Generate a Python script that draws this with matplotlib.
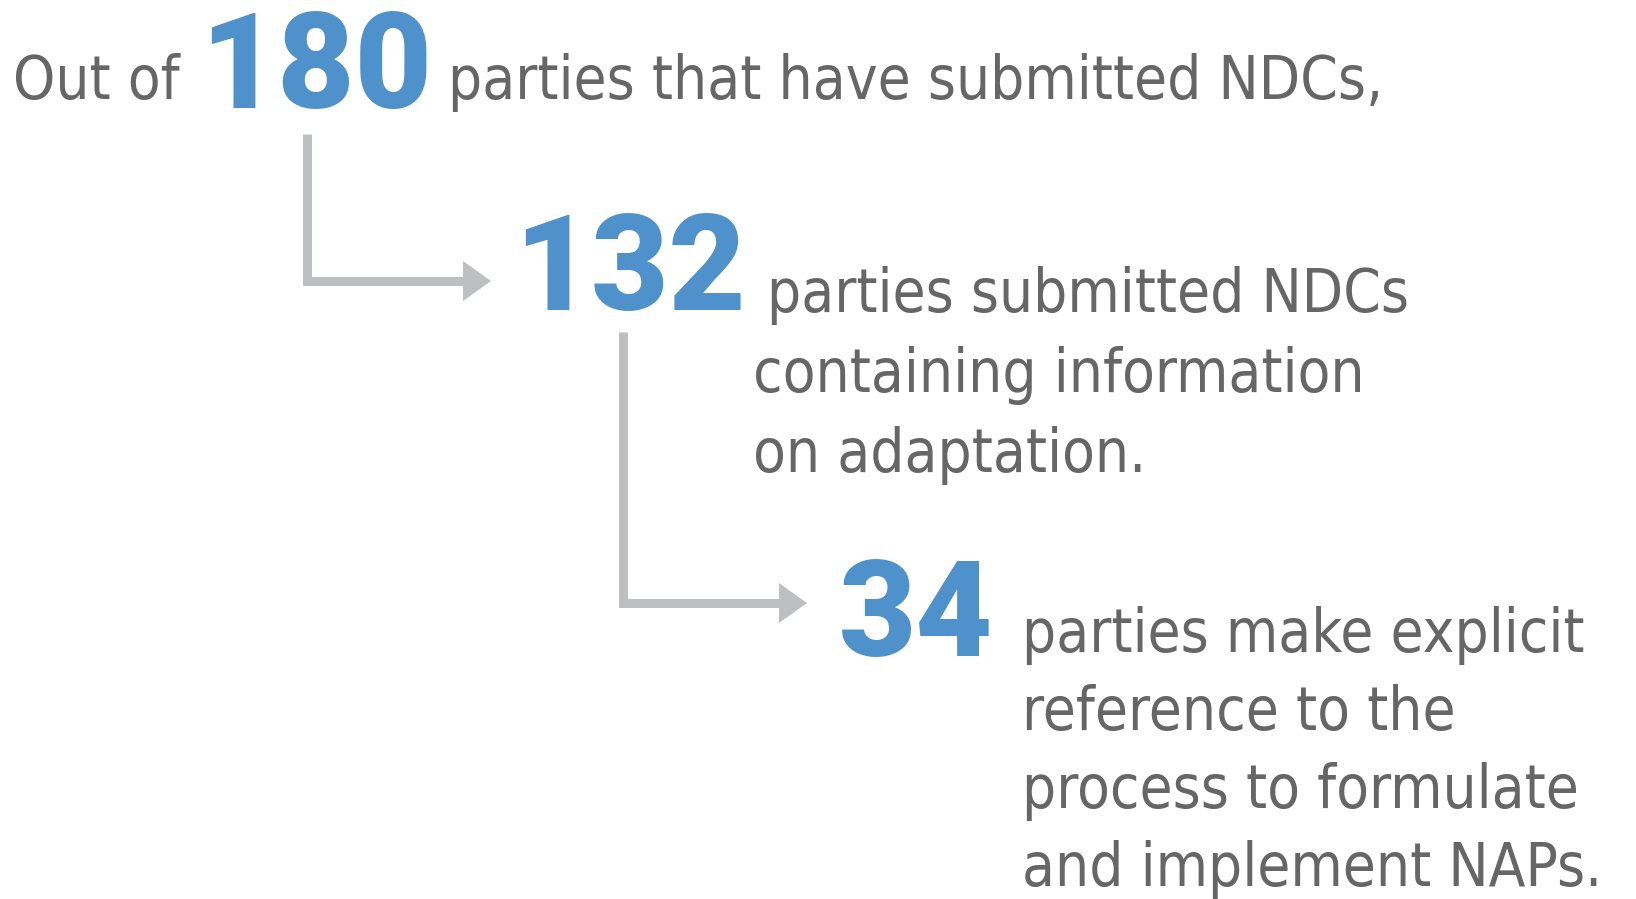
import matplotlib
matplotlib.use("Agg")
import matplotlib.pyplot as plt
from matplotlib import font_manager
from matplotlib.font_manager import FontProperties

# 数据
numbers = ["180", "132", "34"]
lead_text = "Out of"
captions = [
    ["parties that have submitted NDCs,"],
    ["parties submitted NDCs", "containing information", "on adaptation."],
    ["parties make explicit", "reference to the", "process to formulate", "and implement NAPs."],
]

_blue = "#4f91cb"
_grey_text = "#666666"
_grey_arrow = "#bdbfc0"

W, H = 1636, 899


def pick_text_font():
    """找一个窄体字体，找不到就用 Lato"""
    narrow = []
    for f in font_manager.fontManager.ttflist:
        tag = (f.name + " " + f.fname).lower()
        if f.style != "normal" or f.weight not in (400, "normal", "regular"):
            continue
        if "narrow" in tag or "condensed" in tag or f.stretch in ("condensed", "semi-condensed", 500 - 125):
            if "extra" in tag or "ultra" in tag or "semi" in tag:
                continue
            narrow.append(f)
    narrow.sort(key=lambda f: ("liberation" not in f.fname.lower(), "noto" not in f.fname.lower(), f.fname))
    if narrow:
        return FontProperties(fname=narrow[0].fname)
    return FontProperties(family=["Lato", "Open Sans", "DejaVu Sans"])


text_fp = pick_text_font()
num_font = "Roboto"

fig = plt.figure(figsize=(W / 100, H / 100), dpi=100)
ax = fig.add_axes([0, 0, 1, 1])
ax.set_xlim(0, W)
ax.set_ylim(H, 0)
ax.axis("off")

# 布局 (像素)
num_pos = [(200, 108), (514, 310), (839, 656)]
cap_pos = [(448, 99), (753, 312), (1022, 652)]
cap_first_indent = [0, 14, 0]
line_step = [0, 80, 78]
num_size = 96

# 按参考图的宽度定字号
text_size = 50
probe = ax.text(0, 0, captions[0][0], fontproperties=text_fp, fontsize=text_size)
width = probe.get_window_extent(fig.canvas.get_renderer()).width
probe.remove()
text_size = min(54, text_size * 935 / width)

ax.text(13, 99, lead_text, fontproperties=text_fp, fontsize=text_size,
        color=_grey_text, va="baseline", ha="left")

for i, num in enumerate(numbers):
    x, y = num_pos[i]
    ax.text(x, y, num, fontsize=num_size, family=num_font, fontweight="heavy",
            color=_blue, va="baseline", ha="left")
    cx, cy = cap_pos[i]
    for j, line in enumerate(captions[i]):
        dx = cap_first_indent[i] if j == 0 else 0
        ax.text(cx + dx, cy + j * line_step[i], line, fontproperties=text_fp,
                fontsize=text_size, color=_grey_text, va="baseline", ha="left")

# 箭头: (竖线x, 竖线顶部y, 横线y, 箭头尖x)
arrows = [(307, 134, 281, 491), (623, 332, 603, 807)]
lw_px = 9
head_len, head_half = 28, 20
for vx, top, hy, tip in arrows:
    ax.plot([vx, vx, tip - head_len + 1], [top, hy, hy], color=_grey_arrow,
            linewidth=lw_px * 0.72, solid_joinstyle="miter", solid_capstyle="butt")
    ax.fill([tip - head_len, tip, tip - head_len],
            [hy - head_half, hy, hy + head_half], color=_grey_arrow, linewidth=0)

fig.savefig("out.png", dpi=100, facecolor="white")
